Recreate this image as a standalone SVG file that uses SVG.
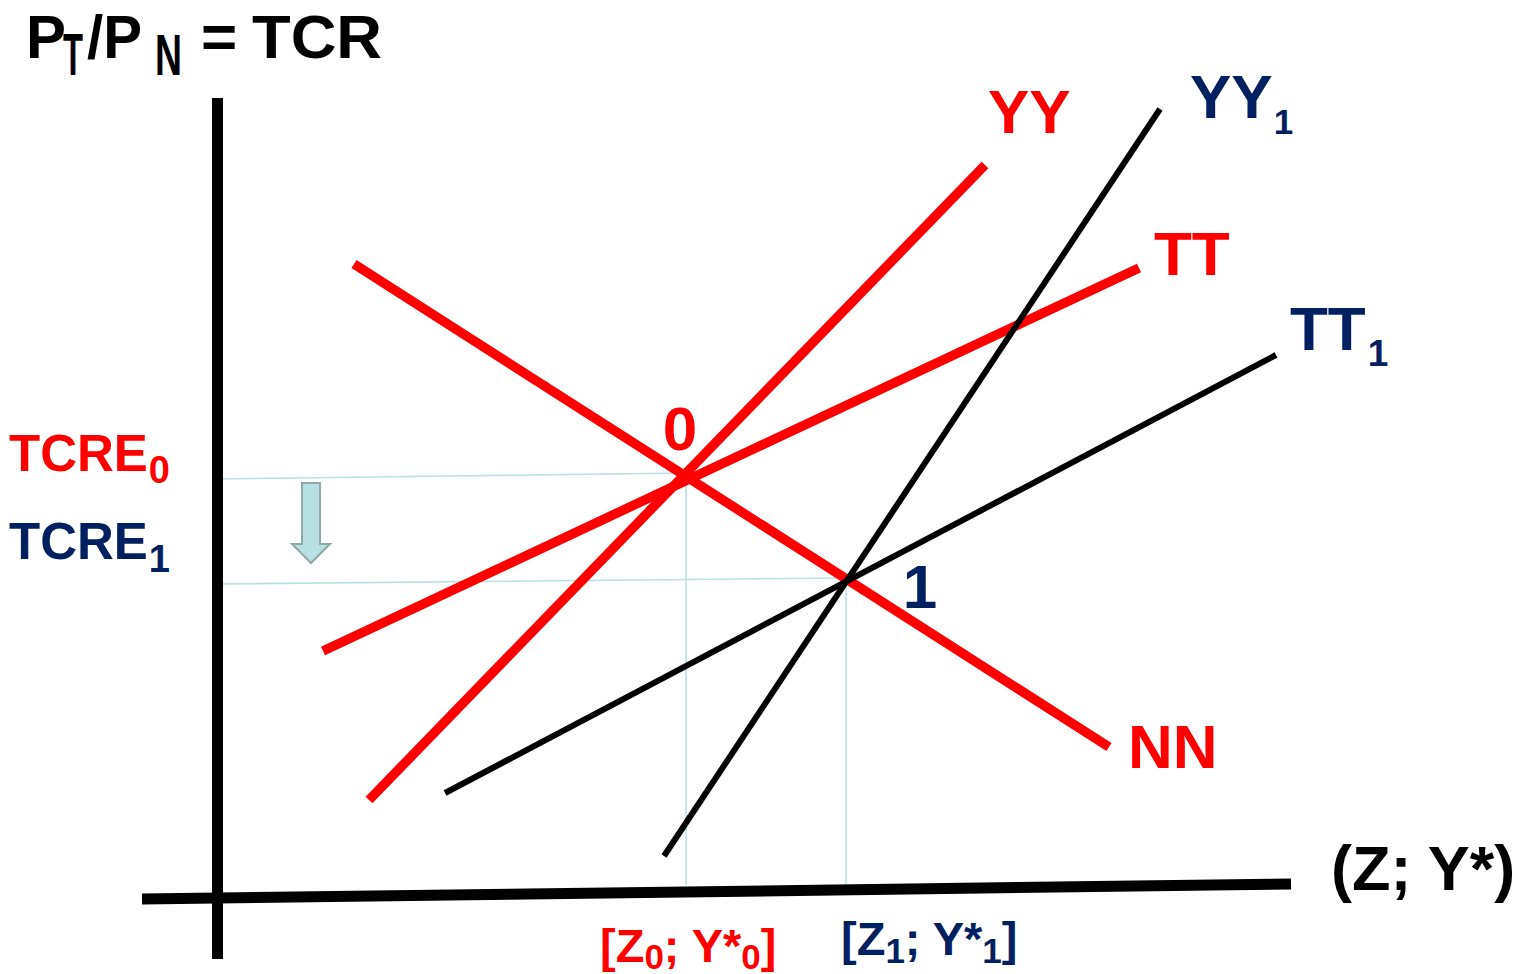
<svg xmlns="http://www.w3.org/2000/svg" width="1518" height="974" viewBox="0 0 1518 974">
<style>
text{font-family:"Liberation Sans",Arial,sans-serif;font-weight:bold}
.red{fill:#ff0000}
.navy{fill:#002060}
.blk{fill:#000000}
.axis{stroke:#000;stroke-width:11;fill:none}
.rline{stroke:#ff0000;stroke-width:9.5;fill:none}
.bline{stroke:#000;stroke-width:6;fill:none}
.guide{stroke:#b9dfe4;stroke-width:1.6;fill:none}
</style>
<rect width="1518" height="974" fill="#ffffff"/>
<g id="guides">
<line class="guide" x1="214" y1="479" x2="686" y2="473"/>
<line class="guide" x1="214" y1="584" x2="846" y2="578"/>
<line class="guide" x1="686" y1="477" x2="686" y2="885"/>
<line class="guide" x1="846" y1="578" x2="846" y2="884"/>
</g>
<g id="axes">
<line class="axis" x1="217.5" y1="98" x2="217.5" y2="959"/>
<line class="axis" x1="142" y1="899" x2="1291" y2="884"/>
</g>
<g id="connectors">
<line id="NN-line" class="rline" x1="354" y1="264" x2="1109" y2="747"/>
<line id="YY-line" class="rline" x1="369" y1="800" x2="985" y2="165"/>
<line id="TT-line" class="rline" x1="323" y1="651" x2="1139" y2="268"/>
<line id="YY1-line" class="bline" x1="664" y1="856" x2="1160" y2="109"/>
<line id="TT1-line" class="bline" x1="445" y1="793" x2="1276" y2="355"/>
</g>
<g id="shift-arrow">
<polygon points="302,483 320,483 320,544 330,544 311,563 292,544 302,544" fill="#b8dfe2" stroke="#8fa8a8" stroke-width="2"/>
</g>
<g id="title">
<text class="blk" x="26" y="58" font-size="62" textLength="40" lengthAdjust="spacingAndGlyphs">P</text>
<text class="blk" x="63" y="75" font-size="60" textLength="20" lengthAdjust="spacingAndGlyphs">T</text>
<text class="blk" x="87" y="58" font-size="62" textLength="55" lengthAdjust="spacingAndGlyphs">/P</text>
<text class="blk" x="155" y="75" font-size="58" textLength="27" lengthAdjust="spacingAndGlyphs">N</text>
<text class="blk" x="201" y="58" font-size="62">=</text>
<text class="blk" x="252" y="58" font-size="62" textLength="130" lengthAdjust="spacingAndGlyphs">TCR</text>
</g>
<g id="label-YY"><text class="red" x="988" y="133" font-size="62">YY</text></g>
<g id="label-YY1"><text class="navy" x="1190" y="118" font-size="62">YY<tspan font-size="35" dy="16" dx="1">1</tspan></text></g>
<g id="label-TT"><text class="red" x="1154" y="275" font-size="62">TT</text></g>
<g id="label-TT1"><text class="navy" x="1290" y="350" font-size="62">TT<tspan font-size="37" dy="16" dx="2">1</tspan></text></g>
<g id="label-NN"><text class="red" x="1128" y="768" font-size="62">NN</text></g>
<g id="label-axis-x"><text class="blk" x="1331" y="890" font-size="63">(Z; Y*)</text></g>
<g id="point-0"><text class="red" x="680" y="450" font-size="62" text-anchor="middle">0</text></g>
<g id="point-1"><text class="navy" x="920" y="608" font-size="62" text-anchor="middle">1</text></g>
<g id="label-TCRE0"><text class="red" x="9" y="471" font-size="51">TCRE<tspan font-size="38" dy="12" dx="1">0</tspan></text></g>
<g id="label-TCRE1"><text class="navy" x="9" y="559" font-size="51">TCRE<tspan font-size="38" dy="13" dx="1">1</tspan></text></g>
<g id="label-Z0"><text class="red" x="600" y="962" font-size="47">[Z<tspan font-size="35" dy="7">0</tspan><tspan dy="-7">; Y*</tspan><tspan font-size="35" dy="7">0</tspan><tspan dy="-7">]</tspan></text></g>
<g id="label-Z1"><text class="navy" x="841" y="955" font-size="47">[Z<tspan font-size="35" dy="8">1</tspan><tspan dy="-8">; Y*</tspan><tspan font-size="35" dy="8">1</tspan><tspan dy="-8">]</tspan></text></g>
</svg>
